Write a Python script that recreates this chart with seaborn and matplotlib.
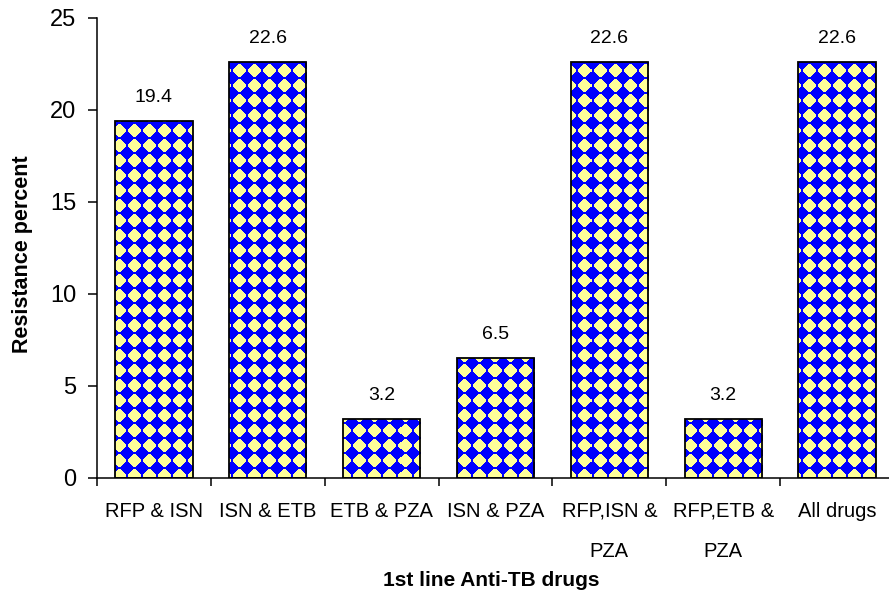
import numpy as np
import pandas as pd
import matplotlib
matplotlib.use("Agg")
import matplotlib.pyplot as plt
import seaborn as sns

# Resistance of isolates to combinations of first-line anti-TB drugs
categories = ["RFP & ISN", "ISN & ETB", "ETB & PZA", "ISN & PZA",
              "RFP,ISN &\nPZA", "RFP,ETB &\nPZA", "All drugs"]
resistance = [19.4, 22.6, 3.2, 6.5, 22.6, 3.2, 22.6]
y_ticks = [0, 5, 10, 15, 20, 25]

df = pd.DataFrame({"combo": categories, "pct": resistance})

sns.set_style("white")
plt.rcParams["font.family"] = ["Liberation Sans", "DejaVu Sans"]
plt.rcParams["text.color"] = "black"
plt.rcParams["axes.labelcolor"] = "black"
plt.rcParams["xtick.color"] = "black"
plt.rcParams["ytick.color"] = "black"

W_PX, H_PX, DPI = 889, 595, 100
fig = plt.figure(figsize=(W_PX / DPI, H_PX / DPI), dpi=DPI)
ax_left, ax_bottom, ax_w, ax_h = 97 / W_PX, 117 / H_PX, 797 / W_PX, 460 / H_PX
ax = fig.add_axes([ax_left, ax_bottom, ax_w, ax_h])

sns.barplot(data=df, x="combo", y="pct", color="#0000FF", saturation=1,
            width=0.68, edgecolor="black", linewidth=1.3, ax=ax)

# Yellow-diamond-on-blue fill pattern, built at screen resolution
pw, ph = int(round(ax_w * W_PX)), int(round(ax_h * H_PX))
period = 15
yy, xx = np.mgrid[0:ph, 0:pw]
dx = np.abs((xx % period) - period / 2 + 0.5)
dy = np.abs((yy % period) - period / 2 + 0.5)
blob = (dx ** 1.4 + dy ** 1.4) <= 6.4 ** 1.4
pattern = np.zeros((ph, pw, 3))
pattern[...] = (0.0, 0.0, 1.0)
pattern[blob] = (1.0, 1.0, 0.6)

for patch in ax.patches:
    img = ax.imshow(pattern, extent=(0, 1, 0, 1), transform=ax.transAxes,
                    interpolation="nearest", aspect="auto", zorder=2)
    img.set_clip_path(patch)
    patch.set_facecolor("none")
    patch.set_zorder(3)

ax.bar_label(ax.containers[0], labels=[f"{v:.1f}" for v in resistance],
             padding=11, fontsize=14, color="black")

ax.set_xlim(-0.5, len(categories) - 0.5)
ax.set_ylim(0, 25)
ax.set_yticks(y_ticks)
ax.tick_params(axis="y", which="major", direction="out", length=6.5, width=1.1,
               labelsize=17, pad=8.5, left=True)

# Category labels sit between the boundary tick marks
ax.set_xticks(np.arange(-0.5, len(categories)), labels=[""] * (len(categories) + 1))
ax.set_xticks(np.arange(len(categories)), labels=categories, minor=True)
ax.tick_params(axis="x", which="major", direction="out", length=6, width=1.1,
               bottom=True)
ax.tick_params(axis="x", which="minor", length=0, labelsize=14.5, pad=17)
for lab in ax.get_xticklabels(minor=True):
    lab.set_linespacing(2.45)

for name in ("top", "right"):
    ax.spines[name].set_visible(False)
for name in ("left", "bottom"):
    ax.spines[name].set_linewidth(1.1)
    ax.spines[name].set_color("black")

ax.set_xlabel("1st line Anti-TB drugs", fontsize=15, fontweight="bold")
ax.xaxis.set_label_coords(491 / W_PX / ax_w - ax_left / ax_w,
                          (H_PX - 581 - 117) / H_PX / ax_h)
ax.xaxis.label.set_va("center")
ax.set_ylabel("Resistance percent", fontsize=15.5, fontweight="bold")
ax.yaxis.set_label_coords((23 - 97) / (ax_w * W_PX), (H_PX - 254 - 117) / (ax_h * H_PX))
ax.yaxis.label.set_va("center")

fig.savefig("out.png", dpi=DPI)
